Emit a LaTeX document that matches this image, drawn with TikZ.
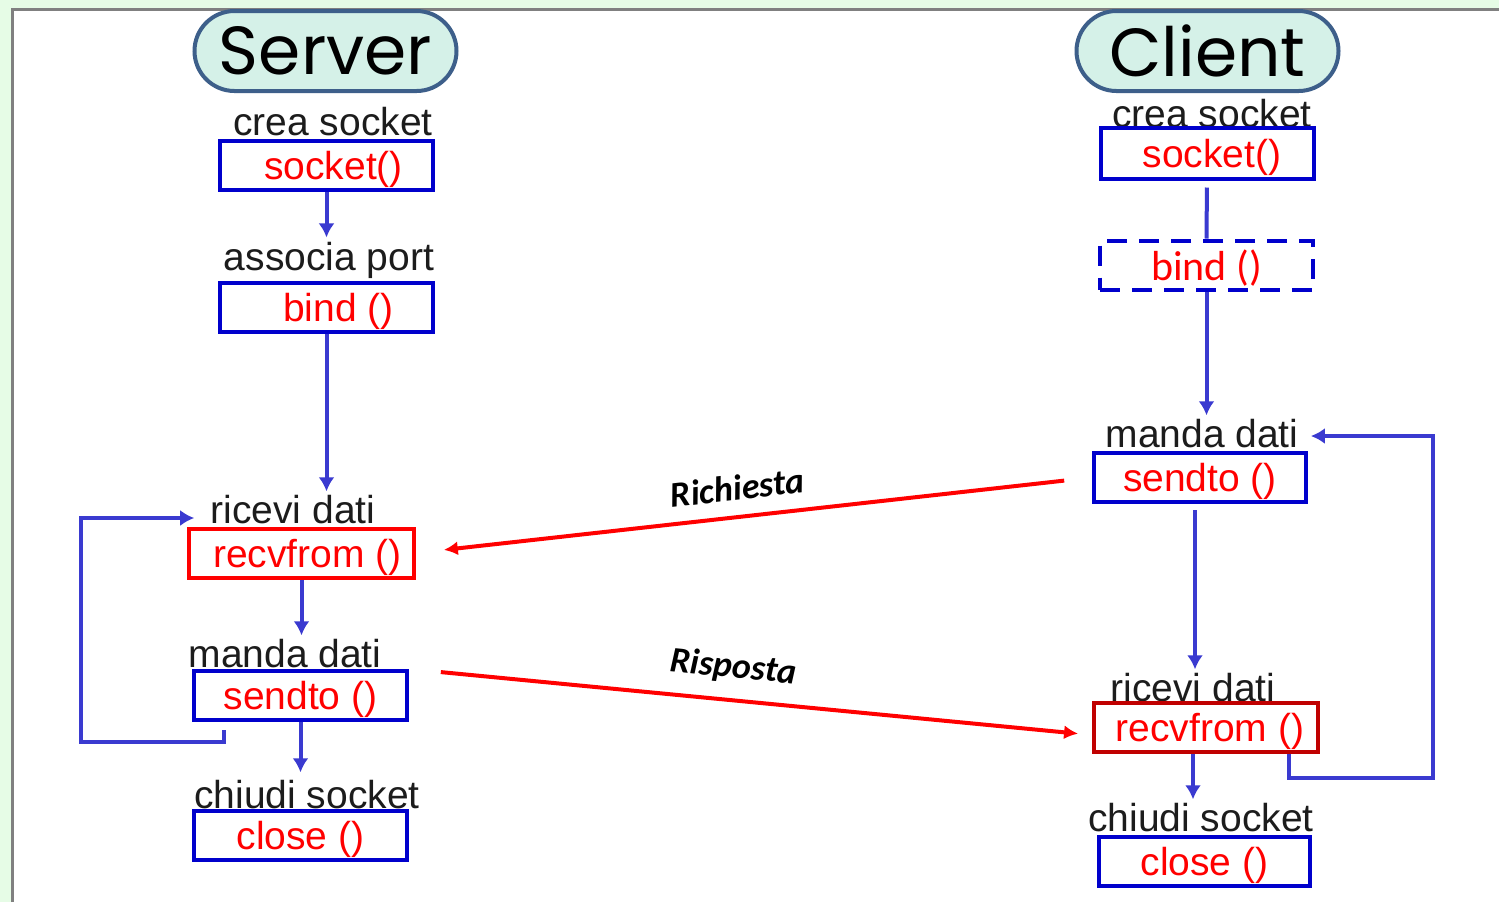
\documentclass[tikz,border=0pt]{standalone}
\usepackage{fontspec}
\setmainfont{Liberation Sans}
\newfontfamily\headfont{Poppins}
\newfontfamily\callfont{Carlito}
\usetikzlibrary{arrows.meta}

\definecolor{boxblue}{HTML}{0000CC}
\definecolor{flowblue}{HTML}{3A3AD0}
\definecolor{pillfill}{HTML}{D5F1E8}
\definecolor{pilledge}{HTML}{3D5F8A}
\definecolor{darkred}{HTML}{C00000}
\definecolor{pagegreen}{HTML}{E6FCE6}
\definecolor{inktext}{HTML}{1C1C1C}

\tikzset{
  call/.style={draw=boxblue, line width=2pt, minimum width=106.5pt, minimum height=24.5pt,
    inner sep=0pt, text depth=0pt, text=red, font=\fontsize{19.5}{20}\selectfont},
  what/.style={text=inktext, inner sep=2pt, font=\fontsize{19.5}{20}\selectfont},
  pill/.style={draw=pilledge, fill=pillfill, line width=2pt, rounded corners=20pt,
    minimum width=131pt, minimum height=40pt, inner sep=0pt, font=\headfont\fontsize{34}{34}\selectfont},
  flow/.style={flowblue, line width=2pt, -{Latex[length=7pt,width=8pt]}},
  msg/.style={red, line width=2pt, -{Latex[length=7pt,width=7pt]}},
  msglabel/.style={text=black, font=\callfont\bfseries\itshape\fontsize{18}{18}\selectfont},
}

\begin{document}
\begin{tikzpicture}[x=0.5pt, y=-0.5pt]

    \useasboundingbox (0,0) rectangle (1499,902);
    \fill[pagegreen] (0,0) rectangle (1499,902);
    \fill[white] (12,9) rectangle (1499,902);
    \draw[gray, line width=1.5pt] (12,902) -- (12,9) -- (1499,9);

    % headers
    \node[pill] (srvHead) at (325.5,51) {Server};
    \node[pill] (cliHead) at (1207.5,51) {Client};

    % server side
    \node[what] (srvSocketLbl) at (333,122) {crea socket};
    \node[call] (srvSocket) at (326.5,165.5) {\hspace{7pt}socket()};
    \node[what] (srvBindLbl) at (329,260) {associa port};
    \node[call] (srvBind) at (326.5,307) {\hspace{12pt}bind ()};
    \node[what] (srvRecvLbl) at (293,510) {ricevi dati};
    \node[call, draw=red, minimum width=112.5pt] (srvRecv) at (301.5,553) {\hspace{6pt}recvfrom ()};
    \node[what] (srvSendLbl) at (285,654) {manda dati};
    \node[call] (srvSend) at (300.5,695.5) {sendto ()\hspace{18pt}};
    \node[what] (srvCloseLbl) at (307,795) {chiudi socket};
    \node[call] (srvClose) at (300.5,835.5) {close ()};

    \draw[flow] (srvSocket.south) -- (srvSocket.south |- srvBindLbl.north);
    \draw[flow] (srvBind.south) -- (srvBind.south |- srvRecvLbl.north);
    \draw[flow] (srvRecv.south) -- (srvRecv.south |- srvSendLbl.north);
    \draw[flow, shorten >=2pt] (srvSend.south) -- (srvSend.south |- srvCloseLbl.north);

    % server loop
    \coordinate (srvLoop) at (81,742);
    \draw[flow, shorten >=6pt] ([xshift=16pt,yshift=-4pt]srvSend.south west) |- (srvLoop) |- ([yshift=-4pt]srvRecvLbl.west);

    % client side
    \node[what, inner sep=0.5pt] (cliSocketLbl) at (1212,114) {crea socket};
    \node[call, minimum height=25.5pt] (cliSocket) at (1207,153) {\hspace{5pt}socket()};
    \node[call, dashed, dash pattern=on 10pt off 6pt, font=\callfont\fontsize{21}{21}\selectfont] (cliBind) at (1206.5,265) {bind ()};
    \node[what] (cliSendLbl) at (1202,434) {manda dati};
    \node[call, minimum width=106pt] (cliSend) at (1200,477.5) {sendto ()};
    \node[what] (cliRecvLbl) at (1193,688) {ricevi dati};
    \node[call, draw=darkred, minimum width=112pt] (cliRecv) at (1206,727) {\hspace{4pt}recvfrom ()};
    \node[what] (cliCloseLbl) at (1201,818) {chiudi socket};
    \node[call, minimum width=105.5pt] (cliClose) at (1204.5,861.5) {close ()\hspace{14pt}};

    \draw[flowblue, line width=2pt, shorten <=3.5pt] (cliSocket.south) -- (cliBind.north);
    \draw[flow] (cliBind.south) -- (cliBind.south |- cliSendLbl.north);
    \draw[flow, shorten <=3pt] ([xshift=-2.5pt]cliSend.south) -- ([xshift=-2.5pt]cliSend.south |- cliRecvLbl.north);
    \draw[flow] ([xshift=-6.5pt]cliRecv.south) -- ([xshift=-6.5pt]cliRecv.south |- cliCloseLbl.north);

    % client loop
    \coordinate (cliLoop) at (1433,778);
    \draw[flow, shorten >=4pt] ([xshift=-15.5pt]cliRecv.south east) |- (cliLoop) |- ([yshift=-1pt]cliSendLbl.east);

    % messages
    \draw[msg, shorten <=14pt, shorten >=14pt] (cliSend.west) -- (srvRecv.east)
        node[msglabel, pos=0.52, above=4pt, sloped] (reqLbl) {Richiesta};
    \draw[msg, shorten <=16pt, shorten >=7pt] (srvSend.north east) -- ([yshift=-4pt]cliRecv.west)
        node[msglabel, pos=0.47, above=4pt, sloped] (resLbl) {Risposta};

\end{tikzpicture}
\end{document}
